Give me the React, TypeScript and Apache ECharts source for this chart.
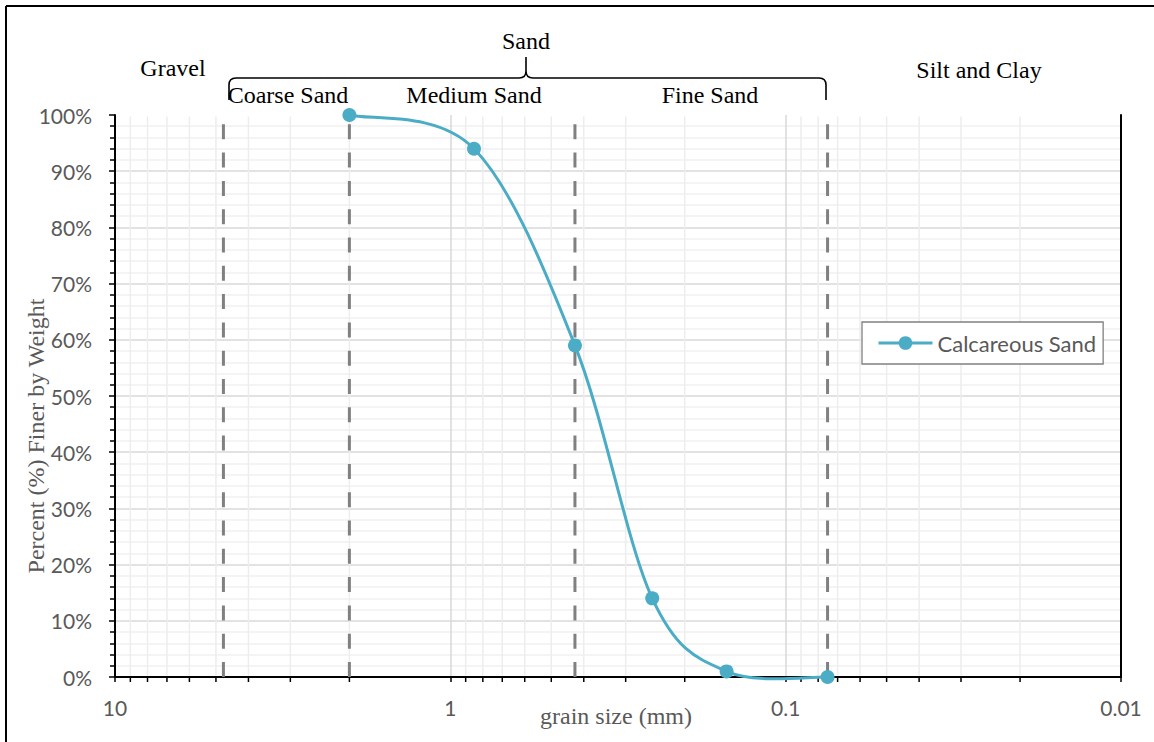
import React, { useEffect, useRef } from "react";
import * as echarts from "echarts";

// Sieve analysis results
const sampleName = "Calcareous Sand";
const grainSizes = [2, 0.85, 0.425, 0.25, 0.15, 0.075]; // mm
const percentFiner = [100, 94, 59, 14, 1, 0]; // %

// Soil classification boundaries (mm)
const boundarySizes = [4.75, 2, 0.425, 0.075];

// Log axis: decades and minor subdivisions
const decadeStarts = [1, 0.1, 0.01];
const minorMultipliers = [2, 3, 4, 5, 6, 7, 8, 9];

// Zone captions
const zoneNames = ["Gravel", "Sand", "Silt and Clay", "Coarse Sand", "Medium Sand", "Fine Sand"];

const xTitle = "grain size (mm)";
const yTitle = "Percent (%) Finer by Weight";

const SERIF = '"Liberation Serif", "Times New Roman", serif';
const SANS = 'Lato, "Open Sans", sans-serif';
const LINE_COLOR = "#4bacc6";
const LABEL_GREY = "#595959";

// Curly bracket spanning the sand range
const braceD =
  "M229,100 L229,85 Q229,78 236,78 L519,78 Q526,78 526,71 L526,57 M526,71 Q526,78 533,78 L819,78 Q826,78 826,85 L826,100";
echarts.graphic.registerShape("sandBrace", echarts.graphic.extendPath(braceD, {}));

export default function App() {
  const ref = useRef<HTMLDivElement>(null);

  useEffect(() => {
    document.body.style.margin = "0";
    if (!ref.current) return;
    const chart = echarts.init(ref.current, undefined, { renderer: "svg" });

    const minorValues: number[] = [];
    decadeStarts.forEach((d) => minorMultipliers.forEach((m) => minorValues.push(+(d * m).toPrecision(6))));

    const zonePos: Record<string, [number, number]> = {
      Gravel: [173, 68],
      Sand: [526, 41],
      "Silt and Clay": [979, 70],
      "Coarse Sand": [288, 95],
      "Medium Sand": [474, 95],
      "Fine Sand": [710, 95],
    };

    const zoneTexts = zoneNames.map((name) => ({
      type: "text",
      x: zonePos[name][0],
      y: zonePos[name][1],
      silent: true,
      style: {
        text: name,
        font: `24px ${SERIF}`,
        fill: "#000",
        align: "center",
        verticalAlign: "middle",
      },
    }));

    const points = grainSizes.map((g, i) => [g, percentFiner[i]]);
    const n = points.length;

    const option: any = {
      animation: false,
      backgroundColor: "#fff",
      grid: { left: 115, top: 115, right: 33, bottom: 65, containLabel: false },
      legend: {
        data: [sampleName],
        left: 862,
        top: 322,
        orient: "horizontal",
        itemWidth: 54,
        itemHeight: 17,
        padding: [10, 7, 10, 15],
        borderColor: "#808080",
        borderWidth: 1.3,
        backgroundColor: "#fff",
        lineStyle: { color: LINE_COLOR, width: 3, opacity: 1 },
        textStyle: { fontFamily: SANS, fontSize: 22, color: LABEL_GREY },
      },
      xAxis: [
        {
          type: "log",
          logBase: 10,
          min: 0.01,
          max: 10,
          inverse: true,
          axisLine: { show: true, lineStyle: { color: "#000", width: 2 } },
          axisTick: { show: true, length: 5, lineStyle: { color: "#000", width: 1.5 } },
          axisLabel: {
            margin: 20,
            color: LABEL_GREY,
            fontFamily: SANS,
            fontSize: 21,
            formatter: (v: number) => String(Number(v.toPrecision(6))),
          },
          splitLine: {
            show: true,
            showMinLine: false,
            showMaxLine: false,
            lineStyle: { color: "#d9d9d9", width: 1.5 },
          },
        },
        {
          type: "value",
          position: "top",
          min: 0,
          max: 1,
          axisLine: { show: true, lineStyle: { color: "#000", width: 2 } },
          axisTick: { show: false },
          axisLabel: { show: false },
          splitLine: { show: false },
        },
      ],
      yAxis: [
        {
          type: "value",
          min: 0,
          max: 100,
          interval: 10,
          axisLine: { show: true, lineStyle: { color: "#000", width: 2 } },
          axisTick: { show: true, length: 6, lineStyle: { color: "#000", width: 1.5 } },
          minorTick: { show: true, splitNumber: 5, length: 5, lineStyle: { color: "#000", width: 1.5 } },
          axisLabel: {
            margin: 23,
            color: LABEL_GREY,
            fontFamily: SANS,
            fontSize: 21,
            formatter: "{value}%",
          },
          splitLine: {
            show: true,
            showMinLine: false,
            showMaxLine: false,
            lineStyle: { color: "#d9d9d9", width: 1.5 },
          },
          minorSplitLine: { show: true, lineStyle: { color: "#f0f0f0", width: 1.5 } },
        },
        {
          type: "value",
          position: "right",
          min: 0,
          max: 100,
          axisLine: { show: true, lineStyle: { color: "#000", width: 2 } },
          axisTick: { show: false },
          axisLabel: { show: false },
          splitLine: { show: false },
        },
      ],
      series: [
        // minor vertical gridlines and their ticks on the log axis
        {
          name: "minorGrid",
          type: "custom",
          xAxisIndex: 0,
          yAxisIndex: 0,
          silent: true,
          z: 1,
          data: minorValues.map((v) => [v, 0]),
          renderItem: (_params: any, api: any) => {
            const v = api.value(0);
            const [x, yBottom] = api.coord([v, 0]);
            const yTop = api.coord([v, 100])[1];
            return {
              type: "group",
              children: [
                {
                  type: "line",
                  shape: { x1: x, y1: yTop + 1.5, x2: x, y2: yBottom - 1.5 },
                  style: { stroke: "#ededed", lineWidth: 1.5 },
                },
                {
                  type: "line",
                  shape: { x1: x, y1: yBottom, x2: x, y2: yBottom + 5 },
                  style: { stroke: "#000", lineWidth: 1.5 },
                },
              ],
            };
          },
        },
        // dashed classification boundaries
        {
          name: "boundaries",
          type: "custom",
          xAxisIndex: 0,
          yAxisIndex: 0,
          silent: true,
          z: 1.5,
          data: boundarySizes.map((v) => [v, 0]),
          renderItem: (_params: any, api: any) => {
            const v = api.value(0);
            const [x, yBottom] = api.coord([v, 0]);
            const yTop = api.coord([v, 100])[1];
            return {
              type: "line",
              shape: { x1: x, y1: yBottom, x2: x, y2: yTop - 1 },
              style: { stroke: "#808080", lineWidth: 3, lineDash: [15, 13.3] },
            };
          },
        },
        // smoothed gradation curve (cardinal spline through the sieve points)
        {
          name: "curve",
          type: "custom",
          xAxisIndex: 0,
          yAxisIndex: 0,
          silent: true,
          z: 2,
          data: points,
          renderItem: (params: any, api: any) => {
            const i = params.dataIndexInside;
            if (i >= n - 1) return null;
            const pt = (j: number) => {
              const k = Math.max(0, Math.min(n - 1, j));
              return api.coord([api.value(0, k), api.value(1, k)]);
            };
            const p0 = pt(i - 1);
            const p1 = pt(i);
            const p2 = pt(i + 1);
            const p3 = pt(i + 2);
            return {
              type: "bezierCurve",
              shape: {
                x1: p1[0],
                y1: p1[1],
                cpx1: p1[0] + (p2[0] - p0[0]) / 6,
                cpy1: p1[1] + (p2[1] - p0[1]) / 6,
                cpx2: p2[0] - (p3[0] - p1[0]) / 6,
                cpy2: p2[1] - (p3[1] - p1[1]) / 6,
                x2: p2[0],
                y2: p2[1],
              },
              style: { stroke: LINE_COLOR, lineWidth: 3, fill: "none" },
            };
          },
        },
        // sieve points (markers)
        {
          name: sampleName,
          type: "line",
          xAxisIndex: 0,
          yAxisIndex: 0,
          z: 3,
          symbol: "circle",
          symbolSize: 14,
          lineStyle: { color: LINE_COLOR, width: 3, opacity: 0 },
          itemStyle: { color: LINE_COLOR },
          data: points,
        },
      ],
      graphic: [
        // outer frame
        { type: "line", silent: true, shape: { x1: 6, y1: 6, x2: 1154, y2: 6 }, style: { stroke: "#000", lineWidth: 2 } },
        { type: "line", silent: true, shape: { x1: 6, y1: 6, x2: 6, y2: 742 }, style: { stroke: "#000", lineWidth: 2 } },
        { type: "sandBrace", x: 0, y: 0, silent: true, style: { stroke: "#000", fill: "none", lineWidth: 1.6 } },
        ...zoneTexts,
        {
          type: "text",
          x: 36,
          y: 436,
          rotation: Math.PI / 2,
          silent: true,
          style: { text: yTitle, font: `24px ${SERIF}`, fill: LABEL_GREY, align: "center", verticalAlign: "middle" },
        },
        {
          type: "text",
          x: 616,
          y: 716,
          silent: true,
          style: { text: xTitle, font: `24px ${SERIF}`, fill: LABEL_GREY, align: "center", verticalAlign: "middle" },
        },
      ],
    };

    chart.setOption(option);
    return () => chart.dispose();
  }, []);

  return <div ref={ref} style={{ width: 1154, height: 742 }} />;
}
